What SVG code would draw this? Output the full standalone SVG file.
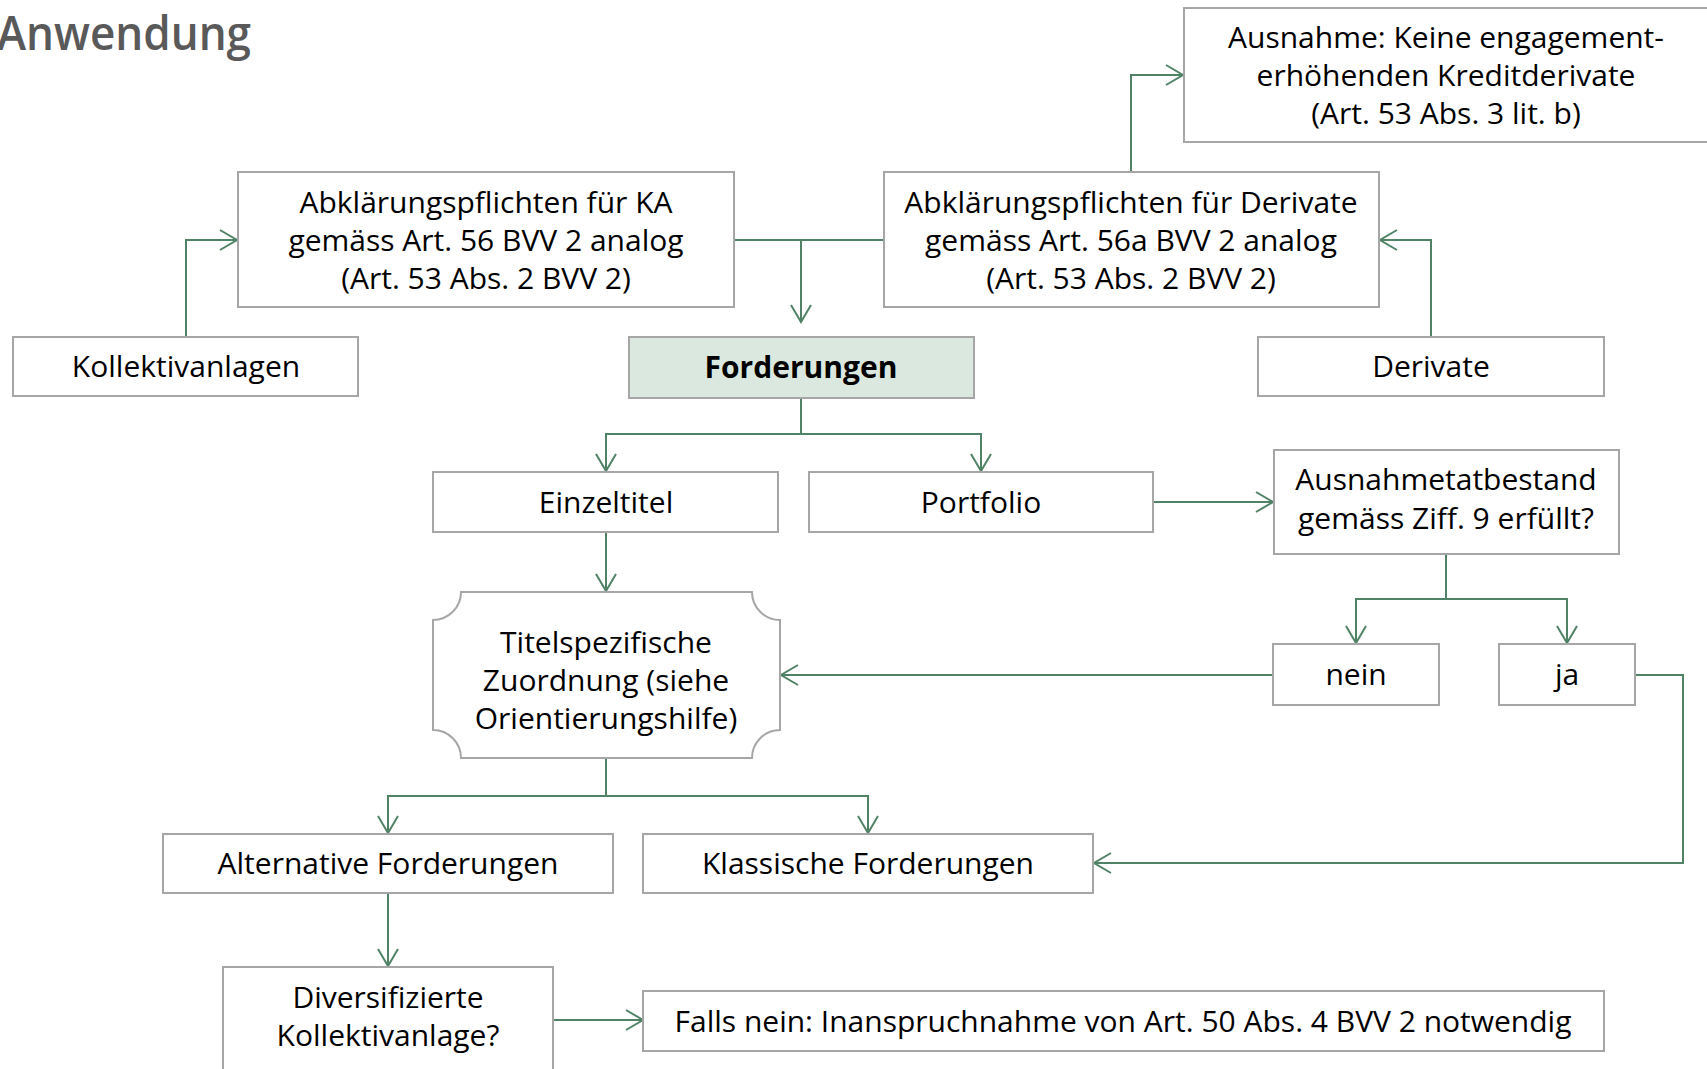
<svg xmlns="http://www.w3.org/2000/svg" width="1707" height="1069" viewBox="0 0 1707 1069">
<style>
.box{fill:#FFFFFF;stroke:#A6A6A6;stroke-width:2}
.hl{fill:#DAE8DF;stroke:#A6A6A6;stroke-width:2}
.t{font-family:"Open Sans","Noto Sans","Liberation Sans",sans-serif;font-size:30px;fill:#000;text-anchor:middle}
.b{font-weight:bold}
.c{fill:none;stroke:#508366;stroke-width:2;marker-end:url(#ah)}
.n{fill:none;stroke:#508366;stroke-width:2}
</style>
<defs>
<marker id="ah" markerUnits="userSpaceOnUse" markerWidth="24" markerHeight="24" viewBox="-20 -12 24 24" refX="0" refY="0" orient="auto">
<path d="M-17,-10 L0,0 L-17,10" fill="none" stroke="#508366" stroke-width="2"/>
</marker>
</defs>
<rect width="1707" height="1069" fill="#FFFFFF"/>
<text x="-3" y="50" textLength="254" lengthAdjust="spacingAndGlyphs" style="font-family:'Open Sans','Noto Sans',sans-serif;font-size:47px;font-weight:600;fill:#595959">Anwendung</text>

<g id="connectors">
<path class="c" d="M186,337 V240 H237"/>
<path class="n" d="M734,240 H884"/>
<path class="c" d="M801,240 V322"/>
<path class="c" d="M1431,337 V240 H1380"/>
<path class="c" d="M1131,172 V75 H1183"/>
<path class="n" d="M801,398 V434"/>
<path class="c" d="M801,434 H606 V471"/>
<path class="c" d="M801,434 H981 V471"/>
<path class="c" d="M1153,502 H1273"/>
<path class="c" d="M606,532 V591"/>
<path class="n" d="M1446,554 V599"/>
<path class="c" d="M1446,599 H1356 V643"/>
<path class="c" d="M1446,599 H1567 V643"/>
<path class="c" d="M1273,675 H781"/>
<path class="c" d="M1635,675 H1683 V863 H1094"/>
<path class="n" d="M606,758 V796"/>
<path class="c" d="M606,796 H388 V833"/>
<path class="c" d="M606,796 H868 V833"/>
<path class="c" d="M388,893 V966"/>
<path class="c" d="M553,1020 H643"/>
</g>

<g id="n-ausnahme"><rect class="box" x="1184" y="8" width="530" height="134"/>
<text class="t" x="1446" y="48">Ausnahme: Keine engagement-</text>
<text class="t" x="1446" y="86">erhöhenden Kreditderivate</text>
<text class="t" x="1446" y="124">(Art. 53 Abs. 3 lit. b)</text></g>

<g id="n-ka"><rect class="box" x="238" y="172" width="496" height="135"/>
<text class="t" x="486" y="213">Abklärungspflichten für KA</text>
<text class="t" x="486" y="251">gemäss Art. 56 BVV 2 analog</text>
<text class="t" x="486" y="289">(Art. 53 Abs. 2 BVV 2)</text></g>

<g id="n-deriv-abkl"><rect class="box" x="884" y="172" width="495" height="135"/>
<text class="t" x="1131" y="213">Abklärungspflichten für Derivate</text>
<text class="t" x="1131" y="251">gemäss Art. 56a BVV 2 analog</text>
<text class="t" x="1131" y="289">(Art. 53 Abs. 2 BVV 2)</text></g>

<g id="n-kollektiv"><rect class="box" x="13" y="337" width="345" height="59"/>
<text class="t" x="186" y="377">Kollektivanlagen</text></g>

<g id="n-forderungen"><rect class="hl" x="629" y="337" width="345" height="61"/>
<text class="t b" x="801" y="378">Forderungen</text></g>

<g id="n-derivate"><rect class="box" x="1258" y="337" width="346" height="59"/>
<text class="t" x="1431" y="377">Derivate</text></g>

<g id="n-einzeltitel"><rect class="box" x="433" y="472" width="345" height="60"/>
<text class="t" x="606" y="513">Einzeltitel</text></g>

<g id="n-portfolio"><rect class="box" x="809" y="472" width="344" height="60"/>
<text class="t" x="981" y="513">Portfolio</text></g>

<g id="n-ausnahmetat"><rect class="box" x="1274" y="450" width="345" height="104"/>
<text class="t" x="1446" y="490">Ausnahmetatbestand</text>
<text class="t" x="1446" y="529">gemäss Ziff. 9 erfüllt?</text></g>

<g id="n-titel"><path class="box" d="M461,592 H752 A28,28 0 0 0 780,620 V730 A28,28 0 0 0 752,758 H461 A28,28 0 0 0 433,730 V620 A28,28 0 0 0 461,592 Z"/>
<text class="t" x="606" y="653">Titelspezifische</text>
<text class="t" x="606" y="691">Zuordnung (siehe</text>
<text class="t" x="606" y="729">Orientierungshilfe)</text></g>

<g id="n-nein"><rect class="box" x="1273" y="644" width="166" height="61"/>
<text class="t" x="1356" y="685">nein</text></g>

<g id="n-ja"><rect class="box" x="1499" y="644" width="136" height="61"/>
<text class="t" x="1567" y="685">ja</text></g>

<g id="n-alternative"><rect class="box" x="163" y="834" width="450" height="59"/>
<text class="t" x="388" y="874">Alternative Forderungen</text></g>

<g id="n-klassische"><rect class="box" x="643" y="834" width="450" height="59"/>
<text class="t" x="868" y="874">Klassische Forderungen</text></g>

<g id="n-diversifiziert"><rect class="box" x="223" y="967" width="330" height="130"/>
<text class="t" x="388" y="1008">Diversifizierte</text>
<text class="t" x="388" y="1046">Kollektivanlage?</text></g>

<g id="n-falls"><rect class="box" x="643" y="991" width="961" height="60"/>
<text class="t" x="1123" y="1032">Falls nein: Inanspruchnahme von Art. 50 Abs. 4 BVV 2 notwendig</text></g>
</svg>
